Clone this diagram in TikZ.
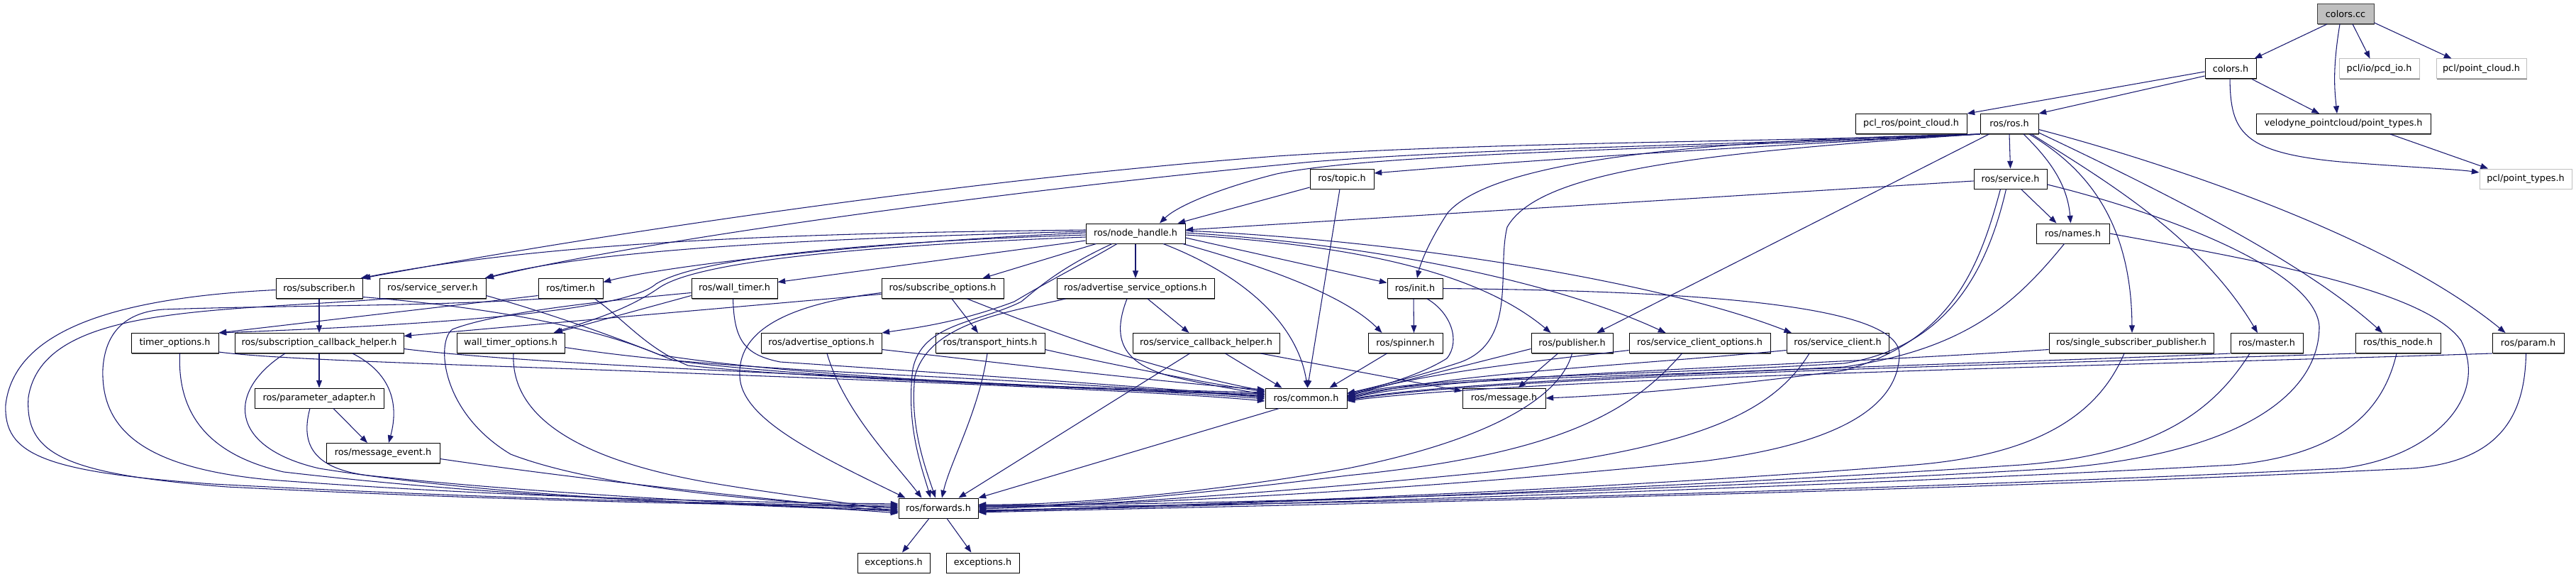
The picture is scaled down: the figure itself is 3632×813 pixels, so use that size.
\documentclass[tikz,border=0pt]{standalone}
\usepackage{fontspec}
\setmainfont{DejaVu Sans}
\usetikzlibrary{arrows.meta,calc,shadows}
\definecolor{edgeblue}{HTML}{191970}
\definecolor{lgray}{HTML}{BFBFBF}
\definecolor{dgray}{HTML}{404040}
\newcommand\bx[5][]{\node[box,#1,minimum width={#4*0.75pt}] (#2) at (#3) {#5};}
\begin{document}
\begin{tikzpicture}[x=0.75pt,y=-0.75pt,
  basebox/.style={line width=0.75pt,inner sep=0pt,minimum height=21pt,font=\fontsize{9.6}{11}\selectfont},
  box/.style={basebox,draw=black,fill=white,drop shadow={shadow xshift=0.8pt,shadow yshift=-0.8pt,fill=black!60,opacity=1}},
  gbox/.style={draw=lgray},
  ccbox/.style={draw=dgray,fill=lgray},
  dep/.style={draw=edgeblue,line width=0.8pt,-{Triangle[length=8pt,width=6pt]}}]
\useasboundingbox (0,0) rectangle (3632,813);
% ---------- nodes ----------
\bx[ccbox]{cc}{3307,19.5}{80}{colors.cc}
\bx{colorsh}{3145,97}{72}{colors.h}
\bx[gbox]{pcdio}{3354.5,97}{113}{pcl/io/pcd\_io.h}
\bx[gbox]{pclpc}{3498.5,97}{127}{pcl/point\_cloud.h}
\bx{pclros}{2694.5,174.5}{157}{pcl\_ros/point\_cloud.h}
\bx{ros}{2833,174.5}{82}{ros/ros.h}
\bx{velo}{3304,174.5}{246}{velodyne\_pointcloud/point\_types.h}
\bx{topic}{1892,252}{90}{ros/topic.h}
\bx{service}{2834.5,252}{103}{ros/service.h}
\bx[gbox]{pt}{3561,252}{130}{pcl/point\_types.h}
\bx{nh}{1601,329}{140}{ros/node\_handle.h}
\bx{names}{2922.5,329}{103}{ros/names.h}
\bx{sub}{450,406.5}{122}{ros/subscriber.h}
\bx{ss}{610,406.5}{150}{ros/service\_server.h}
\bx{timer}{804.5,406.5}{91}{ros/timer.h}
\bx{wt}{1035.5,406.5}{121}{ros/wall\_timer.h}
\bx{so}{1329,406.5}{172}{ros/subscribe\_options.h}
\bx{aso}{1601,406.5}{222}{ros/advertise\_service\_options.h}
\bx{init}{1995,406.5}{78}{ros/init.h}
\bx{tmo}{246.5,483.5}{123}{timer\_options.h}
\bx{scbh}{450,483.5}{238}{ros/subscription\_callback\_helper.h}
\bx{wto}{720,483.5}{152}{wall\_timer\_options.h}
\bx{ao}{1158,483.5}{170}{ros/advertise\_options.h}
\bx{th}{1396,483.5}{154}{ros/transport\_hints.h}
\bx{svcb}{1700.5,483.5}{207}{ros/service\_callback\_helper.h}
\bx{spin}{1981.5,483.5}{105}{ros/spinner.h}
\bx{pub}{2216.5,483.5}{115}{ros/publisher.h}
\bx{sco}{2396.5,483.5}{199}{ros/service\_client\_options.h}
\bx{sc}{2591,483.5}{144}{ros/service\_client.h}
\bx{ssp}{3005,483.5}{232}{ros/single\_subscriber\_publisher.h}
\bx{master}{3196,483.5}{102}{ros/master.h}
\bx{tn}{3381,483.5}{120}{ros/this\_node.h}
\bx{param}{3564.5,483.5}{101}{ros/param.h}
\bx{pa}{450,561}{182}{ros/parameter\_adapter.h}
\bx{common}{1841.5,561}{115}{ros/common.h}
\bx{msg}{2120.5,561}{117}{ros/message.h}
\bx{me}{540,638.5}{160}{ros/message\_event.h}
\bx{fwd}{1323,716}{112}{ros/forwards.h}
\bx{exa}{1260,793}{102}{exceptions.h}
\bx{exb}{1385.5,793}{103}{exceptions.h}
% ---------- top ----------
\draw[dep] ($(cc.south)+(-26,0)$) -- ($(colorsh.north east)+(-3,0)$);
\draw[dep] ($(cc.south)+(-8,0)$) .. controls (3288,100) and (3292,130) .. ($(velo.north)+(-9,0)$);
\draw[dep] ($(cc.south)+(10,0)$) -- ($(pcdio.north)+(-13,0)$);
\draw[dep] ($(cc.south east)+(0,-2)$) -- ($(pclpc.north)+(-42,0)$);
\draw[dep] ($(colorsh.west)+(0,4)$) -- (pclros.north east);
\draw[dep] ($(colorsh.west)+(0,10)$) -- (ros.north east);
\draw[dep] ($(colorsh.south)+(30,0)$) -- ($(velo.north)+(-34,0)$);
\draw[dep] ($(colorsh.south)+(-1,0)$) .. controls (3145,185) and (3160,215) .. (3300,228) .. controls (3400,236) and (3460,238) .. ($(pt.west)+(0,-9)$);
\draw[dep] ($(velo.south)+(66,0)$) -- ($(pt.north)+(-53,0)$);
% ---------- ros.h ----------
\draw[dep] (ros.south west) .. controls (2500,200) and (2100,200) .. (1800,220) .. controls (1400,250) and (900,320) .. (sub.north east);
\draw[dep] (ros.south west) .. controls (2400,206) and (2100,208) .. (1850,228) .. controls (1400,270) and (900,340) .. (ss.north east);
\draw[dep] (ros.south west) .. controls (2400,210) and (1950,214) .. (1800,245) .. controls (1720,265) and (1660,290) .. ($(nh.north)+(34,0)$);
\draw[dep] (ros.south west) .. controls (2500,205) and (2200,222) .. ($(topic.east)+(0,-8)$);
\draw[dep] (ros.south west) .. controls (2350,198) and (2100,232) .. (2041,300) .. controls (2015,340) and (2003,370) .. ($(init.north)+(3,0)$);
\draw[dep] (ros.south west) .. controls (2400,215) and (2170,240) .. (2125,320) .. controls (2110,380) and (2140,480) .. (2060,510) .. controls (2000,530) and (1940,545) .. ($(common.east)+(0,-7)$);
\draw[dep] ($(ros.south west)+(13,0)$) -- ($(pub.north)+(35,0)$);
\draw[dep] (ros.south) -- (service.north);
\draw[dep] ($(ros.south)+(20,0)$) .. controls (2890,225) and (2915,260) .. ($(names.north)+(-3,0)$);
\draw[dep] ($(ros.south)+(28,0)$) .. controls (2930,230) and (3005,300) .. ($(ssp.north)+(1,0)$);
\draw[dep] ($(ros.south east)+(-10,0)$) .. controls (2960,250) and (3100,330) .. ($(master.north)+(-13,0)$);
\draw[dep] ($(ros.south east)+(0,-2)$) .. controls (3050,270) and (3250,370) .. ($(tn.north)+(-22,0)$);
\draw[dep] ($(ros.east)+(0,8)$) .. controls (3000,215) and (3350,320) .. ($(param.north)+(-32,0)$);
% ---------- topic / service / names ----------
\draw[dep] ($(topic.west)+(0,12)$) -- ($(nh.north east)+(-11,0)$);
\draw[dep] ($(topic.south)+(-3,0)$) -- ($(common.north)+(2,0)$);
\draw[dep] ($(service.west)+(0,3)$) -- ($(nh.east)+(0,-5)$);
\draw[dep] ($(service.south)+(15,0)$) -- ($(names.north)+(-23,0)$);
\draw[dep] ($(service.south)+(-6,0)$) .. controls (2800,390) and (2740,490) .. (2600,512) .. controls (2300,530) and (2000,530) .. ($(common.east)+(0,-3)$);
\draw[dep] ($(service.south)+(-14,0)$) .. controls (2790,380) and (2750,480) .. (2600,522) .. controls (2450,542) and (2300,556) .. (msg.east);
\draw[dep] ($(service.east)+(0,8)$) .. controls (3050,300) and (3265,380) .. (3270,460) .. controls (3270,560) and (3150,640) .. (2900,660) .. controls (2400,690) and (1700,712) .. ($(fwd.east)+(0,-4)$);
\draw[dep] ($(names.south)+(-12,0)$) .. controls (2840,430) and (2770,492) .. (2600,517) .. controls (2300,532) and (2000,532) .. ($(common.east)+(0,-1)$);
\draw[dep] (names.east) .. controls (3200,370) and (3420,410) .. (3470,480) .. controls (3510,560) and (3430,645) .. (3300,660) .. controls (2700,690) and (1800,714) .. ($(fwd.east)+(0,-2)$);
% ---------- node_handle ----------
\draw[dep] ($(nh.west)+(0,-5)$) .. controls (1200,328) and (800,335) .. ($(sub.north east)+(-3,0)$);
\draw[dep] ($(nh.west)+(0,-3)$) .. controls (1200,335) and (850,348) .. ($(ss.north east)+(-2,0)$);
\draw[dep] ($(nh.west)+(0,-1)$) .. controls (1250,340) and (950,372) .. ($(timer.east)+(0,-9)$);
\draw[dep] ($(nh.west)+(0,10)$) -- ($(wt.east)+(0,-9)$);
\draw[dep] ($(nh.south west)+(15,0)$) -- ($(so.north east)+(-30,0)$);
\draw[dep] (nh.south) -- (aso.north);
\draw[dep] ($(nh.south)+(-26,0)$) .. controls (1530,370) and (1480,395) .. (1430,425) .. controls (1350,455) and (1290,462) .. (ao.north east);
\draw[dep] ($(nh.east)+(0,6)$) -- ($(init.west)+(0,-8)$);
\draw[dep] ($(nh.south east)+(-4,0)$) .. controls (1800,380) and (1900,420) .. ($(spin.north)+(-33,0)$);
\draw[dep] ($(nh.east)+(0,2)$) .. controls (1900,345) and (2080,380) .. ($(pub.north)+(-30,0)$);
\draw[dep] ($(nh.east)+(0,-1)$) .. controls (1950,345) and (2200,400) .. ($(sco.north)+(-48,0)$);
\draw[dep] ($(nh.east)+(0,-4)$) .. controls (2000,340) and (2350,400) .. ($(sc.north)+(-65,0)$);
\draw[dep] ($(nh.south)+(39,0)$) .. controls (1760,390) and (1830,460) .. ($(common.north)+(2,0)$);
\draw[dep] ($(nh.south)+(-33,0)$) .. controls (1500,375) and (1470,400) .. (1440,425) .. controls (1380,455) and (1300,455) .. (1287,520) .. controls (1277,600) and (1300,660) .. ($(fwd.north)+(-11,0)$);
\draw[dep] ($(nh.west)+(0,2)$) .. controls (1250,340) and (990,360) .. (925,400) .. controls (880,440) and (600,458) .. (tmo.north east);
\draw[dep] ($(nh.west)+(0,5)$) .. controls (1250,345) and (990,365) .. (930,405) .. controls (880,440) and (820,455) .. ($(wto.north east)+(-16,0)$);
% ---------- row F ----------
\draw[dep] (sub.south) -- (scbh.north);
\draw[dep] ($(sub.east)+(0,12)$) .. controls (680,432) and (830,458) .. (930,500) .. controls (1150,535) and (1600,550) .. ($(common.west)+(0,-4)$);
\draw[dep] ($(sub.west)+(0,2)$) .. controls (150,420) and (20,470) .. (8,570) .. controls (5,640) and (60,665) .. (300,682) .. controls (700,703) and (1000,710) .. ($(fwd.west)+(0,-4)$);
\draw[dep] ($(ss.east)+(0,10)$) .. controls (770,440) and (870,475) .. (950,508) .. controls (1150,535) and (1600,551) .. ($(common.west)+(0,-6)$);
\draw[dep] ($(ss.south west)+(10,0)$) .. controls (300,440) and (60,430) .. (40,560) .. controls (35,640) and (90,668) .. (320,686) .. controls (700,705) and (1000,711) .. ($(fwd.west)+(0,-2)$);
\draw[dep] ($(timer.west)+(0,10)$) -- (tmo.north east);
\draw[dep] ($(timer.south east)+(-12,0)$) .. controls (880,450) and (910,490) .. (970,515) .. controls (1150,535) and (1600,549) .. ($(common.west)+(0,-8)$);
\draw[dep] ($(timer.south west)+(5,0)$) .. controls (600,432) and (400,430) .. (230,436) .. controls (175,440) and (148,470) .. (145,520) .. controls (142,610) and (210,660) .. (380,676) .. controls (700,700) and (1000,707) .. ($(fwd.west)+(0,-6)$);
\draw[dep] ($(wt.west)+(0,10)$) -- ($(wto.north east)+(-14,0)$);
\draw[dep] ($(wt.south)+(-2,0)$) .. controls (1035,480) and (1050,500) .. (1100,510) .. controls (1400,530) and (1650,548) .. ($(common.west)+(0,-2)$);
\draw[dep] ($(wt.west)+(0,6)$) .. controls (850,424) and (700,440) .. (638,464) .. controls (615,480) and (620,580) .. (720,640) .. controls (850,690) and (1100,708) .. (fwd.west);
\draw[dep] ($(so.west)+(0,8)$) -- ($(scbh.east)+(0,-10)$);
\draw[dep] ($(so.south)+(13,0)$) -- ($(th.north)+(-17,0)$);
\draw[dep] ($(so.south east)+(-52,0)$) .. controls (1450,455) and (1600,515) .. ($(common.west)+(0,-10)$);
\draw[dep] ($(so.west)+(0,6)$) .. controls (1100,430) and (1040,470) .. (1043,530) .. controls (1045,590) and (1150,640) .. ($(fwd.north west)+(10,0)$);
\draw[dep] ($(aso.south)+(17,0)$) -- ($(svcb.north)+(-24,0)$);
\draw[dep] ($(aso.south)+(-12,0)$) .. controls (1570,470) and (1575,510) .. (1650,530) .. controls (1700,542) and (1740,548) .. ($(common.west)+(0,-5)$);
\draw[dep] ($(aso.south west)+(13,0)$) .. controls (1420,440) and (1310,455) .. (1290,530) .. controls (1282,600) and (1305,660) .. ($(fwd.north)+(-4,0)$);
\draw[dep] ($(init.south)+(-2,0)$) -- ($(spin.north)+(12,0)$);
\draw[dep] ($(init.south)+(17,0)$) .. controls (2045,440) and (2060,480) .. (2040,505) .. controls (2000,530) and (1940,546) .. ($(common.east)+(0,-6)$);
\draw[dep] (init.east) .. controls (2400,410) and (2680,430) .. (2678,500) .. controls (2676,570) and (2600,625) .. (2400,650) .. controls (2000,690) and (1600,712) .. ($(fwd.east)+(0,-3)$);
% ---------- row G ----------
\draw[dep] ($(tmo.south east)+(0,-2)$) .. controls (400,508) and (700,515) .. (1000,527) .. controls (1400,542) and (1650,553) .. ($(common.west)+(0,4)$);
\draw[dep] ($(tmo.south)+(7,0)$) .. controls (250,580) and (290,640) .. (400,665) .. controls (700,700) and (1000,710) .. ($(fwd.west)+(0,2)$);
\draw[dep] (scbh.south) -- (pa.north);
\draw[dep] ($(scbh.south)+(47,0)$) .. controls (560,530) and (560,580) .. ($(me.north)+(8,0)$);
\draw[dep] ($(scbh.east)+(0,8)$) .. controls (700,508) and (1000,522) .. (1300,535) .. controls (1500,545) and (1700,555) .. ($(common.west)+(0,1)$);
\draw[dep] ($(scbh.south)+(-48,0)$) .. controls (320,550) and (320,630) .. (450,660) .. controls (700,700) and (1000,710) .. ($(fwd.west)+(0,4)$);
\draw[dep] ($(wto.east)+(0,6)$) .. controls (900,505) and (1000,515) .. (1300,530) .. controls (1500,540) and (1700,553) .. ($(common.west)+(0,-1)$);
\draw[dep] ($(wto.south)+(4,0)$) .. controls (720,580) and (800,645) .. (1000,680) .. controls (1100,697) and (1200,708) .. ($(fwd.west)+(0,6)$);
\draw[dep] ($(ao.east)+(0,9)$) .. controls (1400,510) and (1650,540) .. ($(common.west)+(0,-12)$);
\draw[dep] ($(ao.south)+(8,0)$) .. controls (1190,580) and (1260,650) .. ($(fwd.north west)+(33,0)$);
\draw[dep] ($(th.east)+(0,9)$) .. controls (1550,510) and (1700,540) .. ($(common.west)+(0,-9)$);
\draw[dep] ($(th.south)+(-4,0)$) .. controls (1380,580) and (1340,650) .. ($(fwd.north)+(5,0)$);
\draw[dep] ($(svcb.south)+(27,0)$) -- ($(common.north west)+(24,0)$);
\draw[dep] ($(svcb.south east)+(-27,0)$) -- ($(msg.west)+(0,-10)$);
\draw[dep] ($(svcb.south)+(-23,0)$) -- ($(fwd.north east)+(-28,0)$);
\draw[dep] ($(spin.south)+(-26,0)$) -- ($(common.north east)+(-25,0)$);
\draw[dep] ($(pub.west)+(0,8)$) -- ($(common.east)+(0,-4)$);
\draw[dep] ($(pub.south)+(-20,0)$) -- ($(msg.north)+(20,0)$);
\draw[dep] (pub.south) .. controls (2200,560) and (2100,620) .. (1900,660) .. controls (1700,695) and (1500,712) .. ($(fwd.east)+(0,-5)$);
\draw[dep] ($(sco.west)+(0,10)$) .. controls (2200,505) and (2000,525) .. ($(common.east)+(0,-2)$);
\draw[dep] ($(sco.south)+(-25,0)$) .. controls (2300,580) and (2200,640) .. (1900,670) .. controls (1700,695) and (1500,714) .. ($(fwd.east)+(0,-1)$);
\draw[dep] ($(sc.west)+(0,10)$) .. controls (2300,515) and (2050,525) .. ($(common.east)+(0,0)$);
\draw[dep] ($(sc.south)+(-40,0)$) .. controls (2500,580) and (2400,630) .. (2100,665) .. controls (1800,695) and (1500,714) .. ($(fwd.east)+(0,1)$);
\draw[dep] ($(ssp.west)+(0,9)$) .. controls (2500,518) and (2050,527) .. ($(common.east)+(0,1)$);
\draw[dep] ($(ssp.south)+(-10,0)$) .. controls (2960,580) and (2880,640) .. (2700,655) .. controls (2200,695) and (1600,714) .. ($(fwd.east)+(0,5)$);
\draw[dep] (master.south west) .. controls (2900,510) and (2100,528) .. ($(common.east)+(0,2)$);
\draw[dep] ($(master.south)+(-24,0)$) .. controls (3120,580) and (3040,640) .. (2850,655) .. controls (2300,692) and (1650,714) .. ($(fwd.east)+(0,3)$);
\draw[dep] (tn.south west) .. controls (2900,512) and (2100,530) .. ($(common.east)+(0,3)$);
\draw[dep] ($(tn.south)+(-2,0)$) .. controls (3360,580) and (3300,640) .. (3150,655) .. controls (2500,690) and (1700,714) .. ($(fwd.east)+(0,4)$);
\draw[dep] (param.south west) .. controls (3100,512) and (2150,532) .. ($(common.east)+(0,4)$);
\draw[dep] ($(param.south)+(-3,0)$) .. controls (3560,580) and (3530,650) .. (3400,660) .. controls (2700,695) and (1700,714) .. ($(fwd.east)+(0,6)$);
% ---------- lower ----------
\draw[dep] ($(pa.south)+(20,0)$) -- ($(me.north)+(-22,0)$);
\draw[dep] ($(pa.south)+(-13,0)$) .. controls (425,620) and (435,660) .. (520,670) .. controls (800,700) and (1100,710) .. ($(fwd.west)+(0,7)$);
\draw[dep] ($(me.east)+(0,8)$) .. controls (850,680) and (1100,705) .. ($(fwd.west)+(0,5)$);
\draw[dep] ($(common.south west)+(20,0)$) -- (fwd.north east);
\draw[dep] ($(fwd.south)+(-13,0)$) -- ($(exa.north)+(12,0)$);
\draw[dep] ($(fwd.south)+(12,0)$) -- ($(exb.north)+(-16,0)$);
\end{tikzpicture}
\end{document}
